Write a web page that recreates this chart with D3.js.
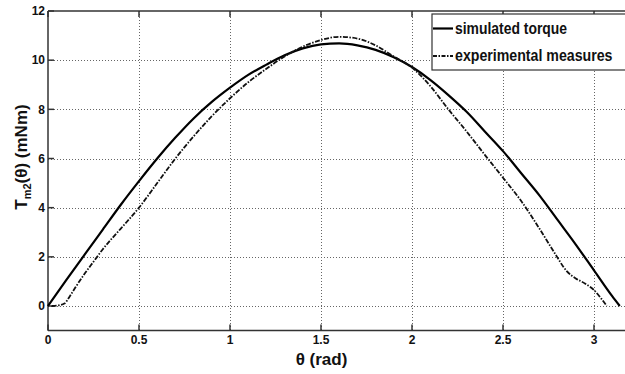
<!DOCTYPE html>
<html><head><meta charset="utf-8">
<script src="https://cdn.jsdelivr.net/npm/d3@7"></script>
<style>
html,body{margin:0;padding:0;background:#fff;}
svg{display:block;}
text{font-family:"Liberation Sans",Arial,sans-serif;font-weight:bold;fill:#111;}
</style></head><body>
<svg id="chart" width="625" height="374"></svg>
<script>
const xTicks = [0, 0.5, 1, 1.5, 2, 2.5, 3];
const yTicks = [0, 2, 4, 6, 8, 10, 12];
const simX = [0,0.1,0.2,0.3,0.4,0.5,0.6,0.7,0.8,0.9,1.0,1.1,1.2,1.3,1.4,1.5,1.6,1.7,1.8,1.9,2.0,2.1,2.2,2.3,2.4,2.5,2.6,2.7,2.8,2.9,3.0,3.1,3.1416];
const simY = [0,1.05,2.08,3.1,4.12,5.08,6.0,6.85,7.63,8.3,8.88,9.4,9.82,10.2,10.48,10.64,10.68,10.6,10.42,10.12,9.72,9.2,8.58,7.9,7.1,6.3,5.4,4.5,3.5,2.5,1.45,0.4,0];
const expX = [0.02,0.06,0.09,0.12,0.15,0.2,0.25,0.3,0.4,0.5,0.6,0.7,0.8,0.9,1.0,1.1,1.2,1.3,1.4,1.5,1.6,1.7,1.8,1.9,2.0,2.1,2.2,2.3,2.4,2.5,2.6,2.7,2.78,2.85,2.9,2.95,3.0,3.04,3.07];
const expY = [0,0.03,0.1,0.4,0.75,1.3,1.8,2.3,3.15,4.0,5.0,6.0,6.9,7.72,8.45,9.1,9.65,10.15,10.55,10.82,10.95,10.88,10.6,10.15,9.7,8.95,8.0,7.1,6.15,5.22,4.27,3.15,2.2,1.42,1.12,0.92,0.65,0.3,0];
const seriesNames = ["simulated torque", "experimental measures"];

const svg = d3.select("#chart");
const x = d3.scaleLinear().domain([0, 3.2]).range([48, 630.4]);
const y = d3.scaleLinear().domain([-1, 12]).range([330.6, 11]);

// grid
const grid = svg.append("g").attr("stroke", "#666").attr("stroke-width", 1).attr("stroke-dasharray", "1,2");
grid.selectAll(".gx").data(xTicks.filter(d => d > 0)).join("line")
  .attr("x1", d => Math.round(x(d)) + 0.5).attr("x2", d => Math.round(x(d)) + 0.5)
  .attr("y1", y(12)).attr("y2", y(-1));
grid.selectAll(".gy").data(yTicks.filter(d => d < 12)).join("line")
  .attr("y1", d => Math.round(y(d)) + 0.5).attr("y2", d => Math.round(y(d)) + 0.5)
  .attr("x1", x(0)).attr("x2", x(3.2));

// axes box
const ax = svg.append("g").attr("stroke", "#333").attr("stroke-width", 1.5).attr("fill", "none");
ax.append("line").attr("x1", x(0)).attr("x2", x(0)).attr("y1", y(12)).attr("y2", y(-1));
ax.append("line").attr("x1", x(0)).attr("x2", x(3.2)).attr("y1", y(-1)).attr("y2", y(-1));
ax.append("line").attr("x1", x(0)).attr("x2", x(3.2)).attr("y1", y(12)).attr("y2", y(12));
ax.selectAll(".tb").data(xTicks).join("line")
  .attr("x1", d => x(d)).attr("x2", d => x(d)).attr("y1", y(-1)).attr("y2", y(-1) - 6);
ax.selectAll(".tt").data(xTicks).join("line")
  .attr("x1", d => x(d)).attr("x2", d => x(d)).attr("y1", y(12)).attr("y2", y(12) + 6);
ax.selectAll(".tl").data(yTicks).join("line")
  .attr("x1", x(0)).attr("x2", x(0) + 6).attr("y1", d => y(d)).attr("y2", d => y(d));

// tick labels
svg.append("g").selectAll("text").data(xTicks).join("text")
  .attr("x", d => x(d)).attr("y", 343.5).attr("text-anchor", "middle")
  .attr("font-size", 12).text(d => d);
svg.append("g").selectAll("text").data(yTicks).join("text")
  .attr("x", 45).attr("y", d => y(d) + 4.3).attr("text-anchor", "end")
  .attr("font-size", 12).text(d => d);

// lines
const simData = simX.map((d, i) => [d, simY[i]]);
const expData = expX.map((d, i) => [d, expY[i]]);
const line = d3.line().x(d => x(d[0])).y(d => y(d[1])).curve(d3.curveMonotoneX);
svg.append("path").datum(simData).attr("d", line)
  .attr("fill", "none").attr("stroke", "#000").attr("stroke-width", 2.2);
svg.append("path").datum(expData).attr("d", line)
  .attr("fill", "none").attr("stroke", "#111").attr("stroke-width", 1.8)
  .attr("stroke-dasharray", "5,1.5,1.5,1.5");

// legend
const lg = svg.append("g");
lg.append("rect").attr("x", 432).attr("y", 14).attr("width", 200).attr("height", 56)
  .attr("fill", "#fff").attr("stroke", "#333").attr("stroke-width", 1.2);
lg.append("line").attr("x1", 433).attr("x2", 453).attr("y1", 28.5).attr("y2", 28.5)
  .attr("stroke", "#000").attr("stroke-width", 2.2);
lg.append("line").attr("x1", 433).attr("x2", 453).attr("y1", 56).attr("y2", 56)
  .attr("stroke", "#111").attr("stroke-width", 1.8).attr("stroke-dasharray", "4,1.5,1.5,1.5");
lg.append("text").attr("x", 455).attr("y", 33.5).attr("font-size", 16)
  .attr("textLength", 112).attr("lengthAdjust", "spacingAndGlyphs").text(seriesNames[0]);
lg.append("text").attr("x", 455).attr("y", 60.5).attr("font-size", 16)
  .attr("textLength", 157.5).attr("lengthAdjust", "spacingAndGlyphs").text(seriesNames[1]);

// axis labels
svg.append("text").attr("x", 321.5).attr("y", 365).attr("text-anchor", "middle")
  .attr("font-size", 17).text("θ (rad)");
const yl = svg.append("text").attr("transform", "translate(27,157) rotate(-90)")
  .attr("text-anchor", "middle").attr("font-size", 17);
yl.append("tspan").text("T");
yl.append("tspan").attr("font-size", 11).attr("dy", 4).text("m2");
yl.append("tspan").attr("dy", -4).text("(θ) (mNm)");
</script>
</body></html>
